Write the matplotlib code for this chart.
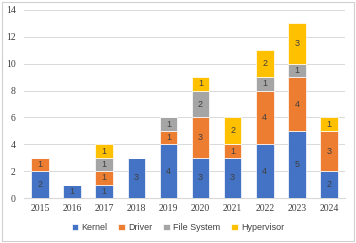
import matplotlib
matplotlib.use("Agg")
import matplotlib.pyplot as plt
from matplotlib.patches import Rectangle
import numpy as np

years = ["2015", "2016", "2017", "2018", "2019", "2020", "2021", "2022", "2023", "2024"]
kernel = [2, 1, 1, 3, 4, 3, 3, 4, 5, 2]
driver = [1, 0, 1, 0, 1, 3, 1, 4, 4, 3]
file_system = [0, 0, 1, 0, 1, 2, 0, 1, 1, 0]
hypervisor = [0, 0, 1, 0, 0, 1, 2, 2, 3, 1]

series = [("Kernel", kernel, "#4472C4"), ("Driver", driver, "#ED7D31"),
          ("File System", file_system, "#A5A5A5"), ("Hypervisor", hypervisor, "#FFC000")]

fig = plt.figure(figsize=(3.56, 2.43), dpi=100)
ax = fig.add_axes([0.0674, 0.185, 0.9016, 0.774])
x = np.arange(len(years))
bottom = np.zeros(len(years))
for name, vals, col in series:
    vals = np.array(vals, dtype=float)
    bars = ax.bar(x, vals, 0.55, bottom=bottom, color=col, edgecolor="white", linewidth=0.5,
                  label=name, zorder=3)
    for xi, v, b in zip(x, vals, bottom):
        if v > 0:
            ax.text(xi, b + v / 2, str(int(v)), ha="center", va="center", fontsize=6.5,
                    color="#404040", family="Liberation Sans", zorder=4)
    bottom += vals

ax.set_xlim(-0.5, len(years) - 0.5)
ax.set_ylim(0, 14)
ax.set_yticks(range(0, 15, 2))
ax.set_xticks(x)
ax.set_xticklabels(years)
for lbl in ax.get_xticklabels() + ax.get_yticklabels():
    lbl.set_family("Liberation Serif")
    lbl.set_fontsize(7)
    lbl.set_color("#404040")
ax.tick_params(axis="both", length=0, pad=4)
ax.tick_params(axis="y", pad=6)
ax.grid(axis="y", color="#D9D9D9", linewidth=0.7, zorder=0)
for s in ["top", "right", "left"]:
    ax.spines[s].set_visible(False)
ax.spines["bottom"].set_color("#D9D9D9")
ax.spines["bottom"].set_linewidth(0.8)

leg = fig.legend(loc="center", bbox_to_anchor=(0.5, 0.062), ncol=4, frameon=False,
                 prop={"family": "Liberation Sans", "size": 6.5}, handlelength=0.7,
                 handleheight=0.7, handletextpad=0.4, columnspacing=1.2)
for t in leg.get_texts():
    t.set_color("#404040")

fig.patches.append(Rectangle((0.006, 0.008), 0.988, 0.984, transform=fig.transFigure,
                             fill=False, edgecolor="#D0D0D0", linewidth=0.8))
fig.savefig("out.png", dpi=100)
